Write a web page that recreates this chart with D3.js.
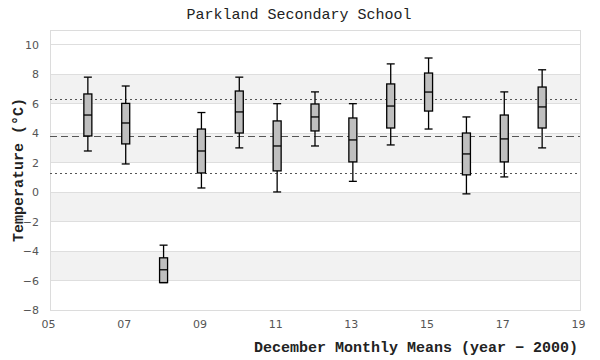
<!DOCTYPE html>
<html><head><meta charset="utf-8">
<script src="https://cdn.jsdelivr.net/npm/d3@7/dist/d3.min.js"></script>
<style>body{margin:0;background:#fff}svg{display:block}</style>
</head><body><svg id="c" width="600" height="360"></svg>
<script>
const years = [6,7,8,9,10,11,12,13,14,15,16,17,18];
const whiskerHigh = [7.8,7.2,-3.6,5.4,7.8,6.0,6.8,6.0,8.7,9.1,5.1,6.8,8.3];
const q3 = [6.66,6.02,-4.46,4.28,6.86,4.83,5.98,5.03,7.34,8.08,4.01,5.23,7.13];
const medians = [5.23,4.69,-5.27,2.79,5.44,3.13,5.10,3.54,5.84,6.79,2.59,3.61,5.78];
const q1 = [3.81,3.27,-6.14,1.30,4.01,1.44,4.15,2.05,4.35,5.50,1.17,2.05,4.35];
const whiskerLow = [2.79,1.91,-6.14,0.28,3.0,0.01,3.13,0.73,3.2,4.28,-0.12,1.03,3.0];
const meanLine = 3.81, upperLine = 6.32, lowerLine = 1.30;
const xTicks = [5,7,9,11,13,15,17,19];
const yTicks = [-8,-6,-4,-2,0,2,4,6,8,10];
const bands = [[6,8],[2,4],[-2,0],[-6,-4]];

const svg = d3.select("#c");
const L=50,R=580,T=30,B=310;
const x = d3.scaleLinear([5,19],[L,R]);
const y = d3.scaleLinear([-8,11],[B,T]);
const tickFont = "DejaVu Sans, sans-serif";
const mono = "Liberation Mono, monospace";

// bands
svg.selectAll(".band").data(bands).join("rect")
  .attr("x",L).attr("width",R-L)
  .attr("y",d=>y(d[1])).attr("height",d=>y(d[0])-y(d[1]))
  .attr("fill","#f2f2f2");
// grid
svg.selectAll(".grid").data(yTicks.filter(v=>v>-8)).join("line")
  .attr("x1",L).attr("x2",R).attr("y1",d=>y(d)).attr("y2",d=>y(d))
  .attr("stroke","#dedede").attr("stroke-width",1).attr("shape-rendering","crispEdges");
// frame
svg.append("rect").attr("x",L).attr("y",T).attr("width",R-L).attr("height",B-T)
  .attr("fill","none").attr("stroke","#dcdcdc").attr("shape-rendering","crispEdges");

// axes
const xAxis = d3.axisBottom(x).tickValues(xTicks).tickSize(0).tickPadding(10)
  .tickFormat(d=>String(d).padStart(2,"0"));
const gx = svg.append("g").attr("transform",`translate(0,${B})`).call(xAxis);
gx.select(".domain").remove();
gx.selectAll("text").attr("font-family",tickFont).attr("font-size",11).attr("fill","#555").attr("dx",-2);
const yAxis = d3.axisLeft(y).tickValues(yTicks).tickSize(0).tickPadding(11);
const gy = svg.append("g").attr("transform",`translate(${L},0)`).call(yAxis);
gy.select(".domain").remove();
gy.selectAll("text").attr("font-family",tickFont).attr("font-size",11).attr("fill","#555");

// reference lines
const refs = [{v:upperLine,d:"2,3"},{v:meanLine,d:"7,4"},{v:lowerLine,d:"2,3"}];
svg.selectAll(".ref").data(refs).join("line")
  .attr("x1",L).attr("x2",R).attr("y1",d=>Math.round(y(d.v))+0.5).attr("y2",d=>Math.round(y(d.v))+0.5)
  .attr("stroke","#555").attr("stroke-width",1).attr("stroke-dasharray",d=>d.d);

// boxes
const data = years.map((yr,i)=>({yr,hi:whiskerHigh[i],q3:q3[i],med:medians[i],q1:q1[i],lo:whiskerLow[i]}));
const bw = 8;
const g = svg.selectAll(".box").data(data).join("g");
g.append("line").attr("x1",d=>x(d.yr)).attr("x2",d=>x(d.yr)).attr("y1",d=>y(d.hi)).attr("y2",d=>y(d.lo))
  .attr("stroke","#000").attr("stroke-width",1.3);
g.append("line").attr("x1",d=>x(d.yr)-bw/2).attr("x2",d=>x(d.yr)+bw/2).attr("y1",d=>y(d.hi)).attr("y2",d=>y(d.hi))
  .attr("stroke","#000").attr("stroke-width",1.3);
g.append("line").attr("x1",d=>x(d.yr)-bw/2).attr("x2",d=>x(d.yr)+bw/2).attr("y1",d=>y(d.lo)).attr("y2",d=>y(d.lo))
  .attr("stroke","#000").attr("stroke-width",1.3);
g.append("rect").attr("x",d=>x(d.yr)-bw/2).attr("width",bw)
  .attr("y",d=>y(d.q3)).attr("height",d=>y(d.q1)-y(d.q3))
  .attr("fill","#bfbfbf").attr("stroke","#000").attr("stroke-width",1.3);
g.append("line").attr("x1",d=>x(d.yr)-bw/2).attr("x2",d=>x(d.yr)+bw/2).attr("y1",d=>y(d.med)).attr("y2",d=>y(d.med))
  .attr("stroke","#000").attr("stroke-width",1.3);

// titles
svg.append("text").attr("x",299).attr("y",19).attr("text-anchor","middle")
  .attr("font-family",mono).attr("font-size",15).attr("fill","#222").text("Parkland Secondary School");
svg.append("text").attr("x",578).attr("y",352).attr("text-anchor","end")
  .attr("font-family",mono).attr("font-weight","bold").attr("font-size",15).attr("fill","#222")
  .text("December Monthly Means (year \u2212 2000)");
svg.append("text").attr("transform",`translate(23,${(T+B)/2}) rotate(-90)`).attr("text-anchor","middle")
  .attr("font-family",mono).attr("font-weight","bold").attr("font-size",15).attr("fill","#222")
  .text("Temperature (\u00B0C)");
</script></body></html>
